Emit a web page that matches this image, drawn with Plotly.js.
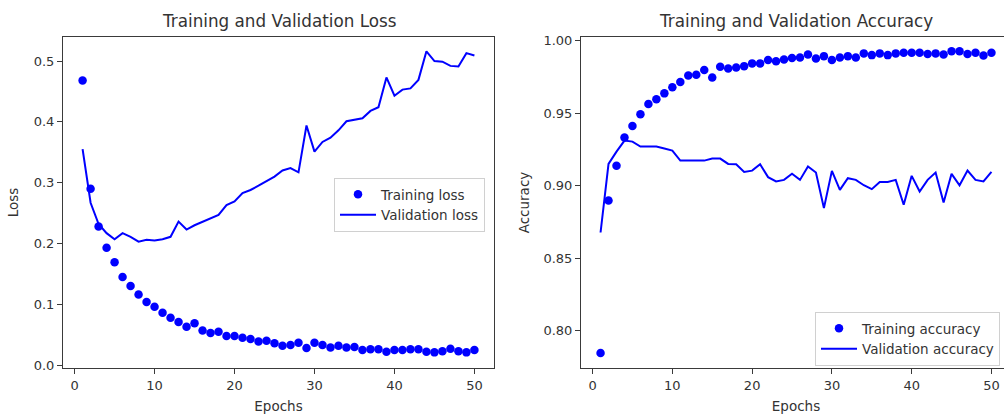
<!DOCTYPE html>
<html>
<head>
<meta charset="utf-8">
<script src="https://cdn.plot.ly/plotly-3.0.1.min.js"></script>
<style>
html,body{margin:0;padding:0;overflow:hidden;background:#fff;}
#chart{width:1020px;height:414px;}
</style>
</head>
<body>
<div id="chart"></div>
<script>
const epochs = [1,2,3,4,5,6,7,8,9,10,11,12,13,14,15,16,17,18,19,20,21,22,23,24,25,26,27,28,29,30,31,32,33,34,35,36,37,38,39,40,41,42,43,44,45,46,47,48,49,50];

const trainingLoss = [0.468,0.290,0.228,0.193,0.169,0.145,0.130,0.116,0.104,0.096,
  0.086,0.078,0.071,0.063,0.069,0.057,0.053,0.055,0.048,0.048,
  0.045,0.043,0.039,0.040,0.036,0.032,0.033,0.037,0.028,0.037,
  0.033,0.029,0.032,0.029,0.030,0.025,0.026,0.026,0.022,0.025,
  0.025,0.026,0.026,0.022,0.021,0.023,0.027,0.023,0.021,0.025];

const validationLoss = [0.355,0.267,0.232,0.217,0.207,0.217,0.211,0.203,0.206,0.205,
  0.207,0.211,0.236,0.223,0.230,0.236,0.242,0.247,0.263,0.269,
  0.283,0.288,0.295,0.302,0.310,0.320,0.324,0.317,0.394,0.351,
  0.367,0.374,0.386,0.401,0.403,0.406,0.418,0.424,0.473,0.443,
  0.453,0.455,0.469,0.516,0.500,0.499,0.492,0.491,0.513,0.509];

const trainingAcc = [0.7846,0.8898,0.9137,0.9332,0.9412,0.9493,0.9564,0.9596,0.9637,0.9679,
  0.9715,0.9761,0.9766,0.9798,0.9747,0.9821,0.9809,0.9816,0.9825,0.9844,
  0.9844,0.9867,0.9858,0.9871,0.9881,0.9885,0.9906,0.9878,0.9894,0.9867,
  0.9885,0.9894,0.9885,0.9913,0.9901,0.9913,0.9901,0.9913,0.9917,0.9917,
  0.9917,0.9908,0.9913,0.9906,0.9927,0.9927,0.9908,0.9917,0.9899,0.9917];

const validationAcc = [0.8677,0.9150,0.9235,0.9311,0.9304,0.9270,0.9270,0.9270,0.9256,0.9242,
  0.9173,0.9173,0.9173,0.9173,0.9187,0.9187,0.9150,0.9148,0.9095,0.9104,
  0.9148,0.9059,0.9029,0.9040,0.9082,0.9040,0.9132,0.9091,0.8845,0.9102,
  0.8971,0.9052,0.9040,0.9003,0.8976,0.9026,0.9026,0.9040,0.8868,0.9068,
  0.8960,0.9040,0.9091,0.8884,0.9082,0.9003,0.9104,0.9040,0.9029,0.9095];

const W = 1020, H = 414;
const FONT = 'DejaVu Sans, sans-serif';
const TXT = '#333333';
const BLUE = '#0000ff';

const traces = [
  {x: epochs, y: trainingLoss, type: 'scatter', mode: 'markers', name: 'Training loss',
   marker: {color: BLUE, size: 8.5}, xaxis: 'x', yaxis: 'y', legend: 'legend'},
  {x: epochs, y: validationLoss, type: 'scatter', mode: 'lines', name: 'Validation loss',
   line: {color: BLUE, width: 2}, xaxis: 'x', yaxis: 'y', legend: 'legend'},
  {x: epochs, y: trainingAcc, type: 'scatter', mode: 'markers', name: 'Training accuracy',
   marker: {color: BLUE, size: 8.5}, xaxis: 'x2', yaxis: 'y2', legend: 'legend2'},
  {x: epochs, y: validationAcc, type: 'scatter', mode: 'lines', name: 'Validation accuracy',
   line: {color: BLUE, width: 2}, xaxis: 'x2', yaxis: 'y2', legend: 'legend2'}
];

const axisCommon = {
  showgrid: false, zeroline: false, showline: true, mirror: true,
  linecolor: '#3a3a3a', linewidth: 1, ticks: 'outside', ticklen: 5, tickwidth: 1,
  tickcolor: '#3a3a3a', tickfont: {family: FONT, size: 13, color: TXT},
  automargin: false
};
const titleFont = {family: FONT, size: 13.5, color: TXT};
const yDom = [1 - 368 / H, 1 - 37 / H];

const legendCommon = {
  xanchor: 'left', yanchor: 'top', itemwidth: 36,
  bgcolor: 'rgba(255,255,255,0.8)', bordercolor: '#d0d0d0', borderwidth: 1,
  font: {family: FONT, size: 13.5, color: TXT}
};

const layout = {
  width: W, height: H,
  margin: {l: 0, r: 0, t: 0, b: 0},
  paper_bgcolor: '#fff', plot_bgcolor: '#fff',
  font: {family: FONT, size: 13, color: TXT},
  xaxis: Object.assign({}, axisCommon, {domain: [63 / W, 494 / W], range: [-1.45, 52.45], dtick: 10, tick0: 0,
    anchor: 'y', title: {text: 'Epochs', font: titleFont}}),
  yaxis: Object.assign({}, axisCommon, {domain: yDom, range: [-0.0047, 0.5395], dtick: 0.1, tick0: 0,
    tickformat: '.1f', anchor: 'x', title: {text: 'Loss', font: titleFont, standoff: 11}}),
  xaxis2: Object.assign({}, axisCommon, {domain: [581 / W, 1011 / W], range: [-1.45, 52.45], dtick: 10, tick0: 0,
    anchor: 'y2', title: {text: 'Epochs', font: titleFont}}),
  yaxis2: Object.assign({}, axisCommon, {domain: yDom, range: [0.7742, 1.0026], dtick: 0.05, tick0: 0.8,
    tickformat: '.2f', anchor: 'x2', title: {text: 'Accuracy', font: titleFont, standoff: 10}}),
  legend: Object.assign({}, legendCommon, {x: 334 / W, y: 1 - 178 / H}),
  legend2: Object.assign({}, legendCommon, {x: 815 / W, y: 1 - 312 / H}),
  showlegend: true,
  annotations: [
    {text: 'Training and Validation Loss', xref: 'paper', yref: 'paper', x: 278.5 / W, y: 1 - 21 / H,
     xanchor: 'center', yanchor: 'middle', showarrow: false, font: {family: FONT, size: 16.8, color: TXT}},
    {text: 'Training and Validation Accuracy', xref: 'paper', yref: 'paper', x: 796 / W, y: 1 - 21 / H,
     xanchor: 'center', yanchor: 'middle', showarrow: false, font: {family: FONT, size: 16.8, color: TXT}}
  ]
};

Plotly.newPlot('chart', traces, layout, {staticPlot: true, displayModeBar: false});
</script>
</body>
</html>
